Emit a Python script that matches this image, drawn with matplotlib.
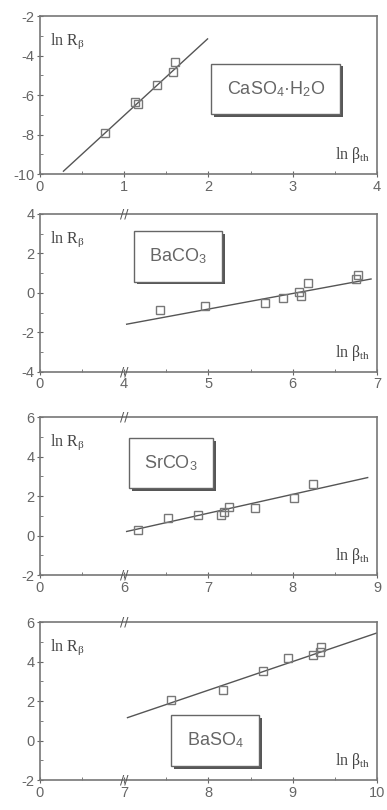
import matplotlib
matplotlib.use("Agg")
import matplotlib.pyplot as plt
import matplotlib.patheffects as pe
from matplotlib.ticker import MultipleLocator
import numpy as np

plt.rcParams['axes.unicode_minus'] = False
plt.rcParams['mathtext.fontset'] = 'custom'
plt.rcParams['mathtext.rm'] = 'Liberation Serif'
plt.rcParams['mathtext.it'] = 'Liberation Serif'
plt.rcParams['mathtext.sf'] = 'Liberation Sans'

# panel names
names = [r'CaSO$_{\mathsf{4}}$·H$_{\mathsf{2}}$O', r'BaCO$_{\mathsf{3}}$',
         r'SrCO$_{\mathsf{3}}$', r'BaSO$_{\mathsf{4}}$']

# measured points (ln beta_th, ln R_beta)
ca_x = [0.77, 1.13, 1.16, 1.39, 1.58, 1.60]
ca_y = [-7.94, -6.34, -6.45, -5.49, -4.82, -4.31]
ba_x = [4.42, 4.96, 5.67, 5.88, 6.08, 6.10, 6.18, 6.75, 6.77]
ba_y = [-0.88, -0.68, -0.53, -0.28, 0.03, -0.18, 0.48, 0.68, 0.88]
sr_x = [6.16, 6.52, 6.88, 7.15, 7.18, 7.25, 7.55, 8.02, 8.24]
sr_y = [0.30, 0.89, 1.06, 1.02, 1.20, 1.45, 1.40, 1.91, 2.60]
bs_x = [7.56, 8.17, 8.65, 8.94, 9.24, 9.32, 9.34]
bs_y = [2.04, 2.58, 3.52, 4.19, 4.31, 4.48, 4.73]

# fitted lines (end points)
ca_fit_x = [0.28, 1.99]
ca_fit_y = [-9.85, -3.15]
ba_fit_x = [4.03, 6.93]
ba_fit_y = [-1.59, 0.70]
sr_fit_x = [6.03, 8.89]
sr_fit_y = [0.21, 2.94]
bs_fit_x = [7.04, 10.0]
bs_fit_y = [1.16, 5.45]

# axis ranges and tick labels (first tick is "0" before the axis break)
xlims = [(0, 4), (3, 7), (5, 9), (6, 10)]
xtick_labels = [['0', '1', '2', '3', '4'],
                ['0', '4', '5', '6', '7'],
                ['0', '6', '7', '8', '9'],
                ['0', '7', '8', '9', '10']]
ylims = [(-10, -2), (-4, 4), (-2, 6), (-2, 6)]
breaks = [None, 4, 6, 7]

xs = [ca_x, ba_x, sr_x, bs_x]
ys = [ca_y, ba_y, sr_y, bs_y]
fxs = [ca_fit_x, ba_fit_x, sr_fit_x, bs_fit_x]
fys = [ca_fit_y, ba_fit_y, sr_fit_y, bs_fit_y]

box_pos = [(0.70, 0.54), (0.41, 0.73), (0.39, 0.71), (0.52, 0.25)]
bottoms = [0.785, 0.541, 0.290, 0.037]

gray = '#666666'
fig = plt.figure(figsize=(3.87, 8.10), dpi=100)

for i in range(4):
    ax = fig.add_axes([0.103, bottoms[i], 0.871, 0.195])
    ax.plot(fxs[i], fys[i], '-', color='#555555', lw=1.0)
    ax.plot(xs[i], ys[i], 's', mfc='none', mec='#777777', ms=6, mew=1.0)
    ax.set_xlim(*xlims[i])
    ax.set_ylim(*ylims[i])
    ticks = np.arange(xlims[i][0], xlims[i][1] + 1)
    ax.set_xticks(ticks)
    ax.set_xticklabels(xtick_labels[i])
    ax.xaxis.set_minor_locator(MultipleLocator(0.5))
    ax.yaxis.set_major_locator(MultipleLocator(2))
    ax.yaxis.set_minor_locator(MultipleLocator(1))
    ax.tick_params(which='major', direction='inout', length=4, color=gray,
                   labelcolor='#666666', labelsize=10.5, pad=2)
    ax.tick_params(which='minor', direction='in', length=2, color=gray)
    for lab in ax.get_xticklabels() + ax.get_yticklabels():
        lab.set_family('Liberation Sans')
    for s in ax.spines.values():
        s.set_color('#777777')
        s.set_linewidth(1.2)

    ax.text(0.03, 0.84, r'ln R$_{\beta}$', transform=ax.transAxes,
            family='Liberation Serif', fontsize=11.5, color='#444444',
            ha='left', va='center')
    ax.text(0.98, 0.12, r'ln $\beta_{\rm th}$', transform=ax.transAxes,
            family='Liberation Serif', fontsize=11.5, color='#444444',
            ha='right', va='center')

    t = ax.text(box_pos[i][0], box_pos[i][1], names[i], transform=ax.transAxes,
                family='Liberation Sans', fontsize=13, color='#666666',
                ha='center', va='center',
                bbox=dict(boxstyle='square,pad=0.85', fc='white', ec='#666666', lw=1.0))
    t.get_bbox_patch().set_path_effects([
        pe.withSimplePatchShadow(offset=(2, -2), shadow_rgbFace='#444444', alpha=0.9)])

    if breaks[i] is not None:
        for yy in ylims[i]:
            ax.text(breaks[i], yy, '//', fontsize=9, color='#555555',
                    ha='center', va='center', clip_on=False)

fig.savefig('out.png', dpi=100)
